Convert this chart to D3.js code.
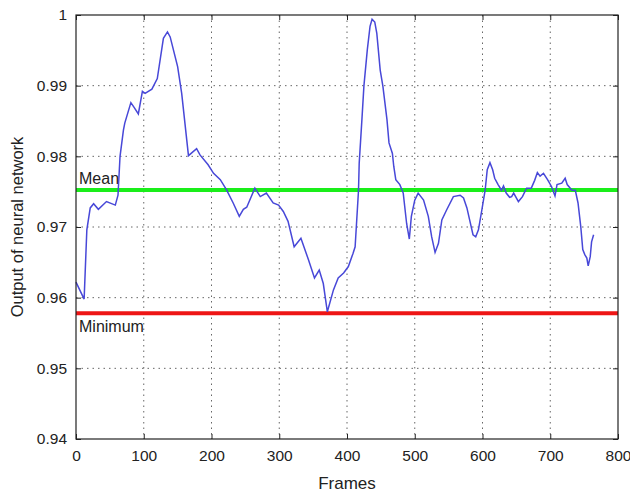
<!DOCTYPE html>
<html>
<head>
<meta charset="utf-8">
<script src="https://cdn.jsdelivr.net/npm/d3@7"></script>
<style>
  body { margin: 0; background: #fff; }
  svg text { font-family: "Liberation Sans", Arial, sans-serif; fill: #222; }
</style>
</head>
<body>
<div id="chart"></div>
<script>
// Data: frame index and network output
const frames = [0, 12, 16, 21, 26, 33, 45, 58, 62, 65, 70, 72, 81, 86, 92, 98, 102, 112, 120, 129, 135, 139, 150, 156, 166, 178, 183, 195, 203, 213, 222, 232, 241, 247, 252, 264, 272, 281, 291, 299, 306, 313, 322, 332, 343, 352, 359, 365, 371, 380, 387, 395, 402, 409, 412, 417, 418, 422, 425, 430, 434, 437, 441, 444, 449, 453, 459, 462, 467, 469, 472, 478, 483, 488, 492, 495, 500, 505, 513, 520, 525, 530, 535, 540, 547, 557, 567, 572, 577, 581, 586, 590, 594, 599, 604, 607, 611, 615, 618, 623, 628, 631, 635, 640, 643, 646, 653, 659, 665, 672, 677, 681, 685, 690, 696, 702, 707, 710, 717, 722, 725, 732, 737, 741, 745, 748, 751, 754, 756, 759, 761, 764];
const outputs = [0.9622, 0.9598, 0.9696, 0.9727, 0.9733, 0.9725, 0.9736, 0.9731, 0.9745, 0.9800, 0.9837, 0.9847, 0.9876, 0.9869, 0.9860, 0.9892, 0.9889, 0.9895, 0.9910, 0.9967, 0.9976, 0.9969, 0.9927, 0.9889, 0.9801, 0.9811, 0.9802, 0.9788, 0.9776, 0.9767, 0.9753, 0.9734, 0.9715, 0.9725, 0.9728, 0.9755, 0.9743, 0.9748, 0.9734, 0.9731, 0.9722, 0.9708, 0.9672, 0.9684, 0.9654, 0.9628, 0.9639, 0.9620, 0.9580, 0.9611, 0.9628, 0.9635, 0.9644, 0.9663, 0.9672, 0.9752, 0.9790, 0.9852, 0.9900, 0.9951, 0.9984, 0.9994, 0.9990, 0.9974, 0.9922, 0.9899, 0.9852, 0.9819, 0.9804, 0.9786, 0.9767, 0.9760, 0.9748, 0.9705, 0.9683, 0.9715, 0.9738, 0.9748, 0.9738, 0.9715, 0.9686, 0.9664, 0.9677, 0.9710, 0.9724, 0.9743, 0.9745, 0.9741, 0.9727, 0.9710, 0.9689, 0.9686, 0.9696, 0.9724, 0.9753, 0.9781, 0.9791, 0.9781, 0.9769, 0.9760, 0.9752, 0.9758, 0.9748, 0.9742, 0.9743, 0.9748, 0.9736, 0.9743, 0.9755, 0.9755, 0.9766, 0.9777, 0.9772, 0.9776, 0.9767, 0.9757, 0.9744, 0.9760, 0.9762, 0.9769, 0.9760, 0.9752, 0.9752, 0.9734, 0.9701, 0.9668, 0.9661, 0.9656, 0.9645, 0.9658, 0.9679, 0.9689];

const meanValue = 0.97525;
const minValue = 0.9578;

const xTicks = [0, 100, 200, 300, 400, 500, 600, 700, 800];
const yTicks = [0.94, 0.95, 0.96, 0.97, 0.98, 0.99, 1];

const width = 630;
const height = 492;
const margin = { top: 15, right: 12, bottom: 53, left: 76 };
const innerW = width - margin.left - margin.right;
const innerH = 424;

const svg = d3.select("#chart")
    .append("svg")
    .attr("width", width)
    .attr("height", height);

const g = svg.append("g")
    .attr("transform", `translate(${margin.left},${margin.top})`);

const x = d3.scaleLinear().domain([0, 800]).range([0, innerW]);
const y = d3.scaleLinear().domain([0.94, 1]).range([innerH, 0]);

// dotted grid
g.append("g")
    .selectAll("line.vgrid")
    .data(xTicks.slice(1, -1))
    .enter()
    .append("line")
    .attr("x1", d => x(d)).attr("x2", d => x(d))
    .attr("y1", 0).attr("y2", innerH)
    .style("stroke", "#666")
    .style("stroke-width", 1)
    .style("stroke-dasharray", "1.5,4");

g.append("g")
    .selectAll("line.hgrid")
    .data(yTicks.slice(1, -1))
    .enter()
    .append("line")
    .attr("x1", 0).attr("x2", innerW)
    .attr("y1", d => y(d)).attr("y2", d => y(d))
    .style("stroke", "#666")
    .style("stroke-width", 1)
    .style("stroke-dasharray", "1.5,4");

// mean and minimum lines
g.append("line")
    .attr("x1", 0).attr("x2", innerW)
    .attr("y1", y(meanValue)).attr("y2", y(meanValue))
    .style("stroke", "#1aee1a")
    .style("stroke-width", 4);

g.append("line")
    .attr("x1", 0).attr("x2", innerW)
    .attr("y1", y(minValue)).attr("y2", y(minValue))
    .style("stroke", "#ee1515")
    .style("stroke-width", 4);

g.append("text")
    .attr("x", 3)
    .attr("y", y(meanValue) - 6)
    .text("Mean")
    .style("font-size", "16px");

g.append("text")
    .attr("x", 3)
    .attr("y", y(minValue) + 19)
    .text("Minimum")
    .style("font-size", "16px");

// the curve
const line = d3.line()
    .x((d, i) => x(frames[i]))
    .y(d => y(d));

g.append("path")
    .datum(outputs)
    .attr("d", line)
    .style("fill", "none")
    .style("stroke", "#4848d8")
    .style("stroke-width", 1.5);

// axes with inward ticks, box on all sides
const styleAxis = sel => {
    sel.select(".domain").remove();
    sel.selectAll(".tick line").style("stroke", "#222");
    sel.selectAll(".tick text").style("font-size", "15.5px").style("fill", "#222");
};

g.append("g")
    .attr("transform", `translate(0,${innerH})`)
    .call(d3.axisBottom(x).tickValues(xTicks).tickSize(-5).tickPadding(11).tickFormat(d3.format("d")))
    .call(styleAxis);

g.append("g")
    .call(d3.axisTop(x).tickValues(xTicks).tickSize(-5).tickFormat(""))
    .call(styleAxis);

g.append("g")
    .call(d3.axisLeft(y).tickValues(yTicks).tickSize(-5).tickPadding(9).tickFormat(d => d === 1 ? "1" : d3.format(".2f")(d)))
    .call(styleAxis);

g.append("g")
    .attr("transform", `translate(${innerW},0)`)
    .call(d3.axisRight(y).tickValues(yTicks).tickSize(-5).tickFormat(""))
    .call(styleAxis);

g.append("rect")
    .attr("width", innerW)
    .attr("height", innerH)
    .style("fill", "none")
    .style("stroke", "#222")
    .style("stroke-width", 1.2);

// axis labels
svg.append("text")
    .attr("x", margin.left + innerW / 2)
    .attr("y", 489)
    .text("Frames")
    .style("text-anchor", "middle")
    .style("font-size", "17px");

svg.append("text")
    .attr("transform", `translate(23,${margin.top + innerH / 2}) rotate(-90)`)
    .text("Output of neural network")
    .style("text-anchor", "middle")
    .style("font-size", "16.5px");
</script>
</body>
</html>
